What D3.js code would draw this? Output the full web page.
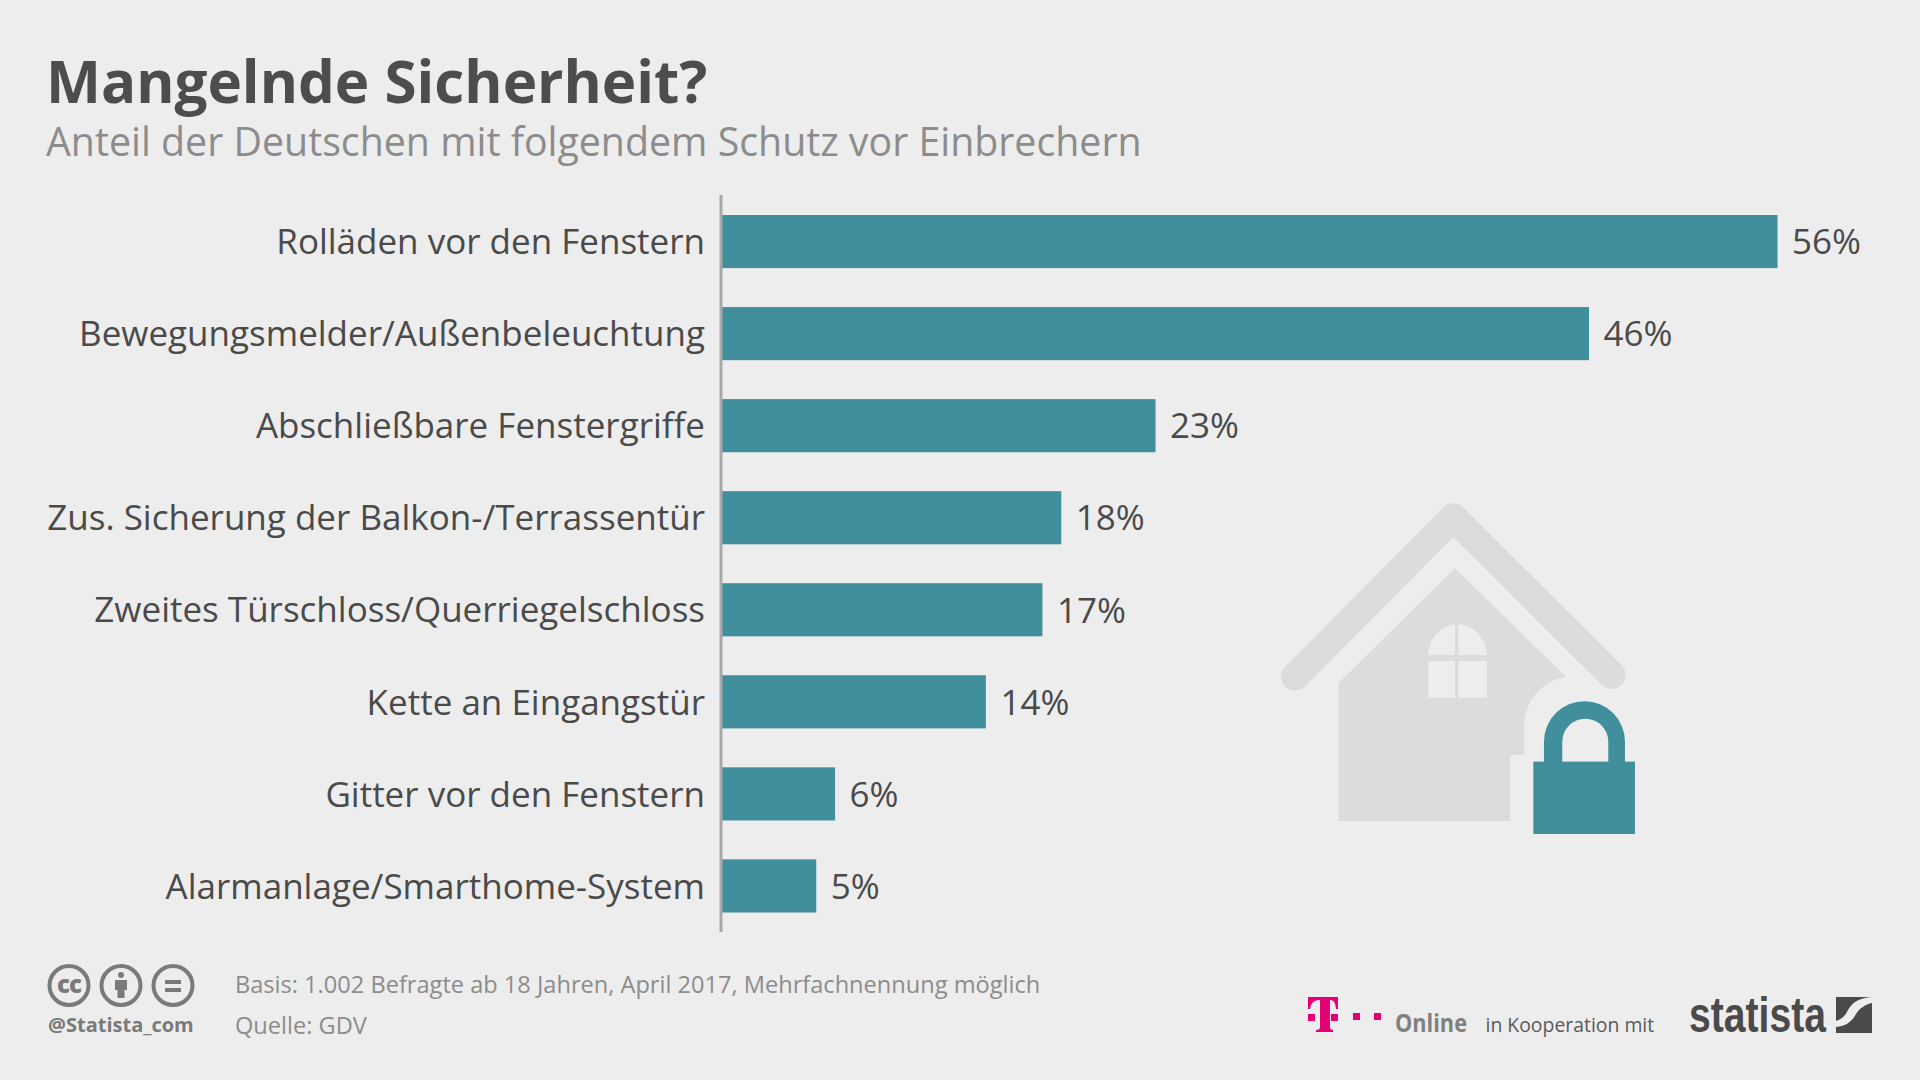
<!DOCTYPE html>
<html><head><meta charset="utf-8">
<script src="https://cdn.jsdelivr.net/npm/d3@7/dist/d3.min.js"></script>
<style>html,body{margin:0;padding:0;background:#ededed;overflow:hidden}svg{display:block}text{font-family:"Open Sans",sans-serif}</style>
</head><body><script>
const categories=["Rolläden vor den Fenstern","Bewegungsmelder/Außenbeleuchtung","Abschließbare Fenstergriffe","Zus. Sicherung der Balkon-/Terrassentür","Zweites Türschloss/Querriegelschloss","Kette an Eingangstür","Gitter vor den Fenstern","Alarmanlage/Smarthome-System"];
const values=[56,46,23,18,17,14,6,5];
const titleText="Mangelnde Sicherheit?";
const subtitleText="Anteil der Deutschen mit folgendem Schutz vor Einbrechern";
const footerLines=["Basis: 1.002 Befragte ab 18 Jahren, April 2017, Mehrfachnennung möglich","Quelle: GDV"];
const TEAL="#418e9c",GREY="#dcdcdc",BG="#ededed";
const svg=d3.select("body").append("svg").attr("width",1920).attr("height",1080);
svg.append("rect").attr("width",1920).attr("height",1080).attr("fill",BG);
svg.append("text").attr("x",46).attr("y",103).attr("font-size",58.3).attr("font-weight",700).attr("fill","#4d4d4d").text(titleText);
svg.append("text").attr("x",46).attr("y",156).attr("font-size",39.3).attr("fill","#8c8c8c").text(subtitleText);
const x=d3.scaleLinear().domain([0,56]).range([722,1777.5]);
const y=d3.scaleBand().domain(categories).range([215,912.5]).paddingInner(.423).paddingOuter(0);
svg.append("g").selectAll("rect").data(values).join("rect")
 .attr("x",x(0)).attr("y",(d,i)=>y(categories[i])).attr("width",d=>x(d)-x(0)).attr("height",y.bandwidth()).attr("fill",TEAL);
svg.append("line").attr("x1",721).attr("x2",721).attr("y1",195).attr("y2",932).attr("stroke","#a8a8a8").attr("stroke-width",3);
const ax=svg.append("g").attr("transform","translate(705,1.5)").call(d3.axisLeft(y).tickSize(0).tickPadding(0));
ax.select(".domain").remove();
ax.selectAll("text").attr("font-size",35).attr("fill","#4a4a4a").style("font-family",'"Open Sans",sans-serif');
svg.append("g").selectAll("text").data(values).join("text")
 .attr("x",d=>x(d)+14.5).attr("y",(d,i)=>y(categories[i])+y.bandwidth()/2+0.5).attr("dy","0.35em")
 .attr("font-size",35).attr("fill","#4a4a4a").text(d=>d+"%");
// House icon
const ic=svg.append("g").attr("transform","translate(1240,480) scale(.3333)");
ic.append("path").attr("d","M165,590 L640,112 L1115,585").attr("fill","none").attr("stroke",GREY).attr("stroke-width",84).attr("stroke-linecap","round").attr("stroke-linejoin","round");
ic.append("path").attr("d","M295,610 L645,265 L978,590 A150,150 0 0 0 852,740 L852,825 L810,825 L810,1023 L295,1023 Z").attr("fill",GREY);
ic.append("path").attr("d","M565,525 A88,93 0 0 1 645,433 L645,525 Z M655,433 A88,93 0 0 1 740,525 L655,525 Z M565,543 H645 V653 H565 Z M655,543 H740 V653 H655 Z").attr("fill",BG);
ic.append("path").attr("d","M912,850 V785 A121,121 0 0 1 1155,785 V850 H1105 V785 A69,69 0 0 0 967,785 V850 Z").attr("fill",TEAL);
ic.append("rect").attr("x",880).attr("y",845).attr("width",305).attr("height",217).attr("fill",TEAL);
// CC icons
const cc=svg.append("g");
[69,121,173].forEach(cx=>cc.append("circle").attr("cx",cx).attr("cy",985.5).attr("r",19.5).attr("fill","none").attr("stroke","#7a7a7a").attr("stroke-width",4));
cc.append("text").attr("x",69).attr("y",993).attr("text-anchor","middle").attr("font-size",24).attr("font-weight",800).attr("letter-spacing",-1).attr("fill","#7a7a7a").text("cc");
cc.append("circle").attr("cx",121).attr("cy",975).attr("r",3).attr("fill","#7a7a7a");
cc.append("path").attr("d","M115,980 H127 V990 H124.5 V998 H117.5 V990 H115 Z").attr("fill","#7a7a7a");
cc.append("rect").attr("x",165).attr("y",980).attr("width",16).attr("height",4).attr("fill","#7a7a7a");
cc.append("rect").attr("x",165).attr("y",988).attr("width",16).attr("height",4).attr("fill","#7a7a7a");
svg.append("text").attr("x",48).attr("y",1032).attr("font-size",20).attr("font-weight",700).attr("fill","#7a7a7a").text("@Statista_com");
svg.append("g").selectAll("text").data(footerLines).join("text").attr("x",235).attr("y",(d,i)=>993+i*41).attr("font-size",23.6).attr("fill","#8c8c8c").text(d=>d);
// Telekom logo
const lg=svg.append("g").attr("fill","#e20074");
lg.append("path").attr("d","M1308,997 H1338 V1009 H1336 C1335.5,1003 1334,1000 1330,1000 V1027 C1330,1029 1331,1030 1333,1030 V1032 H1316 V1030 C1319,1030 1320,1029 1320,1027 V1000 C1314,1000 1311,1003 1310,1009 H1308 Z");
[[1308,1014],[1331,1014],[1353,1013],[1374,1013]].forEach(p=>lg.append("rect").attr("x",p[0]).attr("y",p[1]).attr("width",7).attr("height",7));
svg.append("text").attr("x",1395).attr("y",1032).attr("font-size",25).attr("font-weight",700).attr("fill","#808080").attr("textLength",72).attr("lengthAdjust","spacingAndGlyphs").text("Online");
svg.append("text").attr("x",1485.5).attr("y",1032).attr("font-size",19.4).attr("fill","#5a5a5a").text("in Kooperation mit");
svg.append("text").attr("x",1689).attr("y",1032).attr("font-size",50).attr("font-weight",700).attr("fill","#4a4a4a").attr("textLength",137).attr("lengthAdjust","spacingAndGlyphs").style("font-family",'"Liberation Sans Narrow","Liberation Sans",sans-serif').text("statista");
// Statista mark
svg.append("path").attr("d","M1836,997 H1872 C1858,998 1852,1003 1848,1010 C1845,1016 1842,1019 1836,1021 Z M1872,1003 V1033 H1836 V1027 C1847,1026 1852,1021 1856,1014 C1859,1009 1864,1005 1872,1003 Z").attr("fill","#4a4a4a");
</script></body></html>
